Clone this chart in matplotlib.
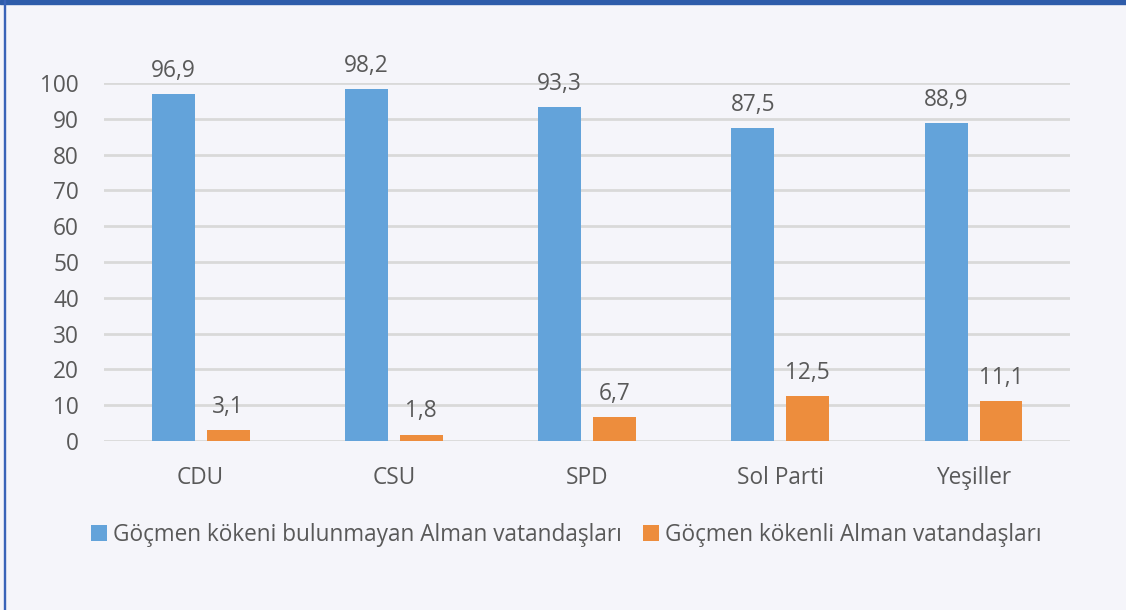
#!/usr/bin/env python

from matplotlib import pyplot as plt
from matplotlib.patches import Rectangle
import numpy as np

parties = ["CDU", "CSU", "SPD", "Sol Parti", "Yeşiller"]
no_migration = [96.9, 98.2, 93.3, 87.5, 88.9]
migration = [3.1, 1.8, 6.7, 12.5, 11.1]
series_names = [
    "Göçmen kökeni bulunmayan Alman vatandaşları",
    "Göçmen kökenli Alman vatandaşları",
]
yticks = list(range(0, 101, 10))


def main():
    plt.rcParams["font.family"] = ["Open Sans", "DejaVu Sans"]
    text_color = "#595959"
    bg = "#F5F5FA"
    colors = ["#63A3DA", "#ED8D3D"]
    fs = 16.3

    fig = plt.figure(figsize=(11.26, 6.10), dpi=100, facecolor=bg)
    ax = fig.add_axes([0.0924, 0.277, 0.858, 0.587])
    ax.set_facecolor(bg)

    x = np.arange(len(parties))
    width = 0.222
    offset = 0.142
    for i, vals in enumerate([no_migration, migration]):
        b = ax.bar(x + (i * 2 - 1) * offset, vals, width, color=colors[i],
                   label=series_names[i], zorder=3)
        for rect, v in zip(b, vals):
            ax.annotate(f"{v:.1f}".replace(".", ","),
                        (rect.get_x() + rect.get_width() / 2, v),
                        xytext=(0, 8), textcoords="offset points",
                        ha="center", va="bottom", fontsize=fs, color=text_color)

    ax.set_xlim(-0.5, len(parties) - 0.5)
    ax.set_ylim(0, 100)
    ax.set_yticks(yticks)
    ax.set_xticks(x)
    ax.set_xticklabels(parties)
    ax.tick_params(axis="both", length=0, labelsize=fs, labelcolor=text_color)
    ax.tick_params(axis="y", pad=18)
    ax.tick_params(axis="x", pad=18)
    ax.grid(axis="y", color="#D9D9D9", linewidth=2, zorder=0)
    ax.set_axisbelow(True)
    for s in ax.spines.values():
        s.set_visible(False)

    fig.legend(loc="center", bbox_to_anchor=(0.503, 0.123), ncol=2, frameon=False,
               fontsize=fs, labelcolor=text_color, handlelength=0.7,
               handleheight=0.7, handletextpad=0.3, columnspacing=0.9)

    # frame: thick top band, thin left line
    fig.patches.append(Rectangle((0, 1 - 4 / 610), 1, 4 / 610, transform=fig.transFigure,
                                 color="#2E5CAA", zorder=10))
    fig.patches.append(Rectangle((3.5 / 1126, 0), 1.8 / 1126, 1, transform=fig.transFigure,
                                 color="#3A63B8", zorder=10))

    fig.savefig("out.png", dpi=100, facecolor=bg)


if __name__ == "__main__":
    main()
